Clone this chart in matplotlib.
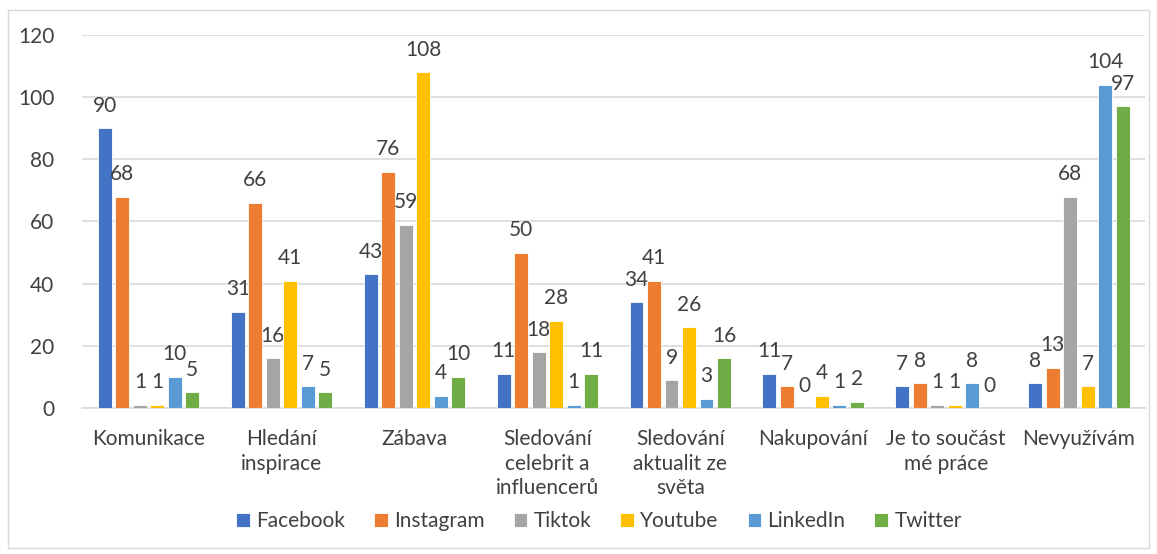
import matplotlib.pyplot as plt
import numpy as np
from matplotlib.patches import Rectangle

plt.rcParams['font.family'] = ['Lato', 'DejaVu Sans']

categories = ['Komunikace', 'Hledání\ninspirace', 'Zábava', 'Sledování\ncelebrit a\ninfluencerů',
              'Sledování\naktualit ze\nsvěta', 'Nakupování', 'Je to součást\nmé práce', 'Nevyužívám']
series = ['Facebook', 'Instagram', 'Tiktok', 'Youtube', 'LinkedIn', 'Twitter']
facebook = [90, 31, 43, 11, 34, 11, 7, 8]
instagram = [68, 66, 76, 50, 41, 7, 8, 13]
tiktok = [1, 16, 59, 18, 9, 0, 1, 68]
youtube = [1, 41, 108, 28, 26, 4, 1, 7]
linkedin = [10, 7, 4, 1, 3, 1, 8, 104]
twitter = [5, 5, 10, 11, 16, 2, 0, 97]
colors = ['#4472C4', '#ED7D31', '#A5A5A5', '#FFC000', '#5B9BD5', '#70AD47']

data = [facebook, instagram, tiktok, youtube, linkedin, twitter]
txt = '#404040'

fig = plt.figure(figsize=(11.57, 5.54), dpi=100)
ax = fig.add_axes([0.071, 0.2635, 0.919, 0.6735])

x = np.arange(len(categories)) + 0.5
step = 0.1316
w = 0.105
for i, (vals, name, c) in enumerate(zip(data, series, colors)):
    pos = x + (i - 2.5) * step
    ax.bar(pos, vals, width=w, color=c, label=name, edgecolor='white', linewidth=0.6, zorder=3)
    for px, v in zip(pos, vals):
        ax.annotate(str(v), (px, v), xytext=(0, 9), textcoords='offset points',
                    ha='center', va='bottom', fontsize=15, color=txt)

ax.set_xlim(0, len(categories))
ax.set_ylim(0, 120)
ax.set_yticks(range(0, 121, 20))
ax.set_xticks(x)
ax.set_xticklabels(categories, fontsize=15, color=txt, linespacing=1.3)
ax.tick_params(axis='y', length=0, labelsize=15, labelcolor=txt, pad=20)
ax.tick_params(axis='x', length=0, pad=15)
ax.grid(axis='y', color='#D9D9D9', linewidth=1.2, zorder=0)
for s in ['top', 'right', 'left']:
    ax.spines[s].set_visible(False)
ax.spines['bottom'].set_color('#D9D9D9')
ax.spines['bottom'].set_linewidth(1.2)

ax.legend(loc='center', bbox_to_anchor=(0.486, -0.303), ncol=6, frameon=False, fontsize=15,
          handlelength=0.65, handleheight=0.65, handletextpad=0.3, columnspacing=1.4,
          labelcolor=txt)

fig.patches.append(Rectangle((0.007, 0.01), 0.986, 0.972, transform=fig.transFigure,
                             fill=False, edgecolor='#D9D9D9', linewidth=1))

fig.savefig('out.png', dpi=100)
